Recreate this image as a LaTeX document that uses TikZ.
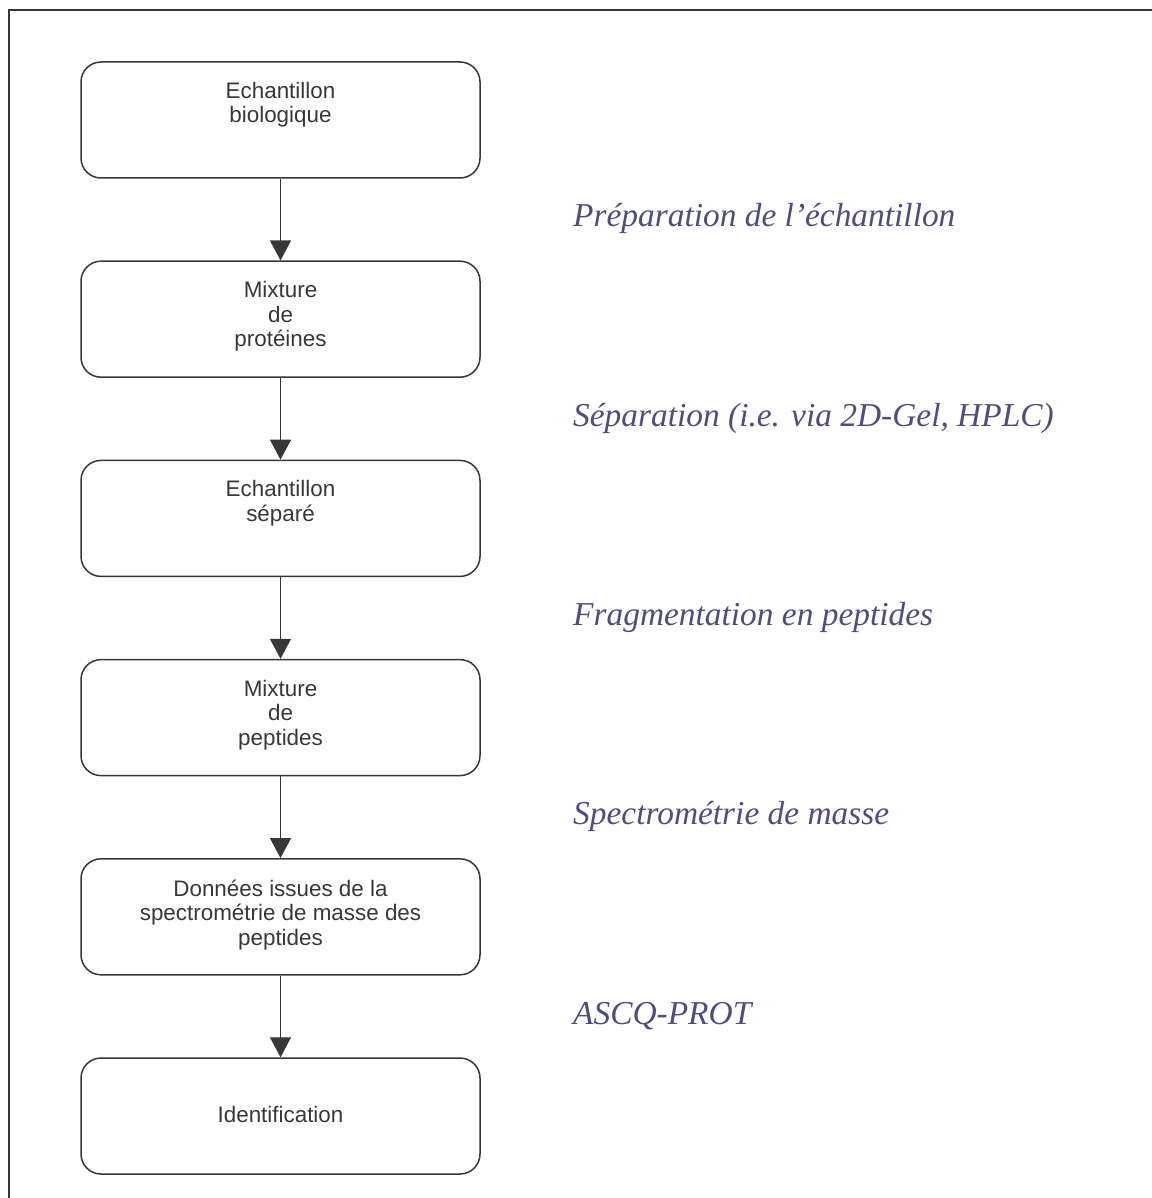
\documentclass[tikz,border=0pt]{standalone}
\usepackage{fontspec}
\setmainfont{Liberation Serif}
\newfontfamily\boxfont{Liberation Sans}
\usetikzlibrary{arrows.meta}
\definecolor{linegray}{RGB}{55,55,58}
\definecolor{textgray}{RGB}{55,55,55}
\definecolor{labelcol}{RGB}{78,76,128}
\newcommand{\boxtext}[1]{\boxfont\fontsize{22.4}{24.5}\selectfont\begin{tabular}[t]{@{}c@{}}#1\end{tabular}}
\tikzset{
  stepbox/.style={draw=linegray, line width=1.5pt, rounded corners=20pt, minimum width=399pt, minimum height=116pt, inner sep=0pt},
  boxlabel/.style={anchor=base, inner sep=0pt, text=textgray},
  steplabel/.style={anchor=base west, inner sep=0pt, text=labelcol, font=\fontsize{33.4}{36}\selectfont\itshape},
  flow/.style={draw=linegray, line width=1.2pt, -{Triangle[width=21pt,length=20pt]}},
  frameline/.style={draw=linegray, line width=1.5pt}
}
\begin{document}
\begin{tikzpicture}[x=1pt,y=-1pt]
\useasboundingbox (0,0) rectangle (1151,1198);
\coordinate (fr1) at (1160,10);
\coordinate (fr2) at (9,10);
\coordinate (fr3) at (9,1210);
\draw[frameline] (fr1) -- (fr2) -- (fr3);

\node[stepbox] (b1) at (280.5,120) {};
\node[stepbox] (b2) at (280.5,319.2) {};
\node[stepbox] (b3) at (280.5,518.4) {};
\node[stepbox] (b4) at (280.5,717.6) {};
\node[stepbox] (b5) at (280.5,916.8) {};
\node[stepbox] (b6) at (280.5,1116) {};

\node[boxlabel] (t1) at (280.5,98.5) {\boxtext{Echantillon\\biologique}};
\node[boxlabel] (t2) at (280.5,297.7) {\boxtext{Mixture\\de\\protéines}};
\node[boxlabel] (t3) at (280.5,496.9) {\boxtext{Echantillon\\séparé}};
\node[boxlabel] (t4) at (280.5,696.1) {\boxtext{Mixture\\de\\peptides}};
\node[boxlabel] (t5) at (280.5,896) {\boxtext{Données issues de la\\spectrométrie de masse des\\peptides}};
\node[boxlabel] (t6) at (280.5,1122) {\boxtext{Identification}};

\draw[flow] (b1.south) -- (b2.north);
\draw[flow] (b2.south) -- (b3.north);
\draw[flow] (b3.south) -- (b4.north);
\draw[flow] (b4.south) -- (b5.north);
\draw[flow] (b5.south) -- (b6.north);

\node[steplabel] (l1) at (573,227) {Préparation de l’échantillon};
\node[steplabel] (l2) at (573,426.2) {Séparation (i.e. via 2D-Gel, HPLC)};
\node[steplabel] (l3) at (573,625.4) {Fragmentation en peptides};
\node[steplabel] (l4) at (573,824.6) {Spectrométrie de masse};
\node[steplabel] (l5) at (573,1024) {ASCQ-PROT};
\end{tikzpicture}
\end{document}
